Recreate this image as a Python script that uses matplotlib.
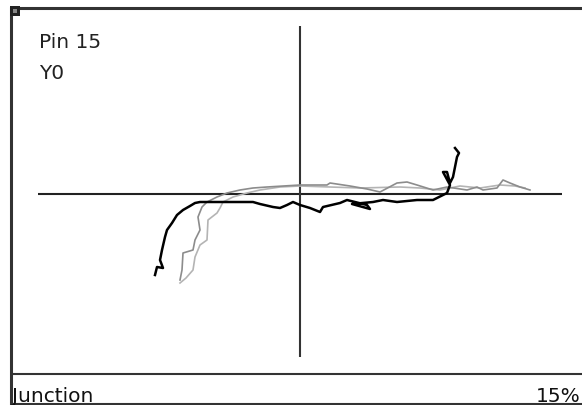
import matplotlib
matplotlib.use("Agg")
import matplotlib.pyplot as plt
from matplotlib.patches import Rectangle

# curve tracer readings (x: volts-ish, y: current-ish, arbitrary units)
black_x = [-14.5, -14.3, -13.7, -14.0, -13.8, -13.5, -13.3, -12.8, -12.3, -11.7, -11.0, -10.5, -10.0,
           -7.5, -4.7, -4.0, -2.7, -2.0, -1.3, -0.7, 0.0, 1.0, 2.0, 2.3, 4.0, 4.7, 6.7, 7.0, 5.2,
           7.3, 8.3, 9.7, 11.7, 13.3, 14.7, 15.0, 14.3, 14.7, 15.0, 15.3, 15.5, 15.7, 15.9, 15.5]
black_y = [-8.1, -7.3, -7.4, -6.6, -5.6, -4.3, -3.6, -2.9, -2.1, -1.6, -1.2, -0.9, -0.8,
           -0.8, -0.8, -1.0, -1.3, -1.4, -1.1, -0.8, -1.1, -1.4, -1.8, -1.3, -0.9, -0.6, -1.1, -1.5, -1.0,
           -0.8, -0.6, -0.8, -0.6, -0.6, 0.1, 0.9, 2.2, 2.2, 1.1, 1.7, 2.7, 3.7, 4.1, 4.6]

grayA_x = [-12.0, -11.8, -11.7, -10.7, -10.5, -10.0, -10.2, -9.8, -9.3, -8.3, -7.3, -6.0, -4.7, -3.3,
           0.0, 2.7, 3.0, 5.0, 6.7, 8.0, 9.7, 10.7, 11.7, 13.3, 14.7, 16.7, 17.7, 18.3, 19.7, 20.3,
           21.0, 22.0, 23.0]
grayA_y = [-8.6, -7.6, -5.9, -5.6, -4.6, -3.6, -2.3, -1.3, -0.8, -0.3, 0.1, 0.4, 0.6, 0.7,
           0.9, 0.9, 1.1, 0.8, 0.5, 0.2, 1.1, 1.2, 0.9, 0.4, 0.7, 0.4, 0.7, 0.4, 0.6, 1.4,
           1.1, 0.7, 0.4]

grayB_x = [-12.0, -11.4, -10.7, -10.5, -10.0, -9.3, -9.2, -8.3, -8.0, -7.7, -6.7, -5.3, -4.0, -2.0,
           0.0, 3.0, 6.0, 10.0, 12.0, 14.0, 16.0, 18.0, 20.0, 21.5, 22.5]
grayB_y = [-8.9, -8.4, -7.6, -6.3, -5.1, -4.6, -2.6, -1.9, -1.4, -0.8, -0.3, 0.1, 0.4, 0.7,
           0.8, 0.7, 0.6, 0.7, 0.6, 0.4, 0.8, 0.6, 0.9, 0.8, 0.6]

W, H = 582, 405
fig = plt.figure(figsize=(W / 100, H / 100), dpi=100)
fig.patch.set_facecolor("white")

# frame / status bar in pixel space
bg = fig.add_axes([0, 0, 1, 1])
bg.set_xlim(0, W)
bg.set_ylim(H, 0)
bg.axis("off")
frame = "#333333"
bg.plot([11, W], [8, 8], color=frame, lw=2.2, solid_capstyle="butt")
bg.plot([11, 11], [7, H], color=frame, lw=2.2, solid_capstyle="butt")
bg.plot([11, W], [374, 374], color=frame, lw=1.5, solid_capstyle="butt")
bg.plot([11, W], [403.5, 403.5], color=frame, lw=1.5, solid_capstyle="butt")
bg.add_patch(Rectangle((10, 6), 10, 10, facecolor="#222222", edgecolor="none", zorder=5))
bg.add_patch(Rectangle((13, 9), 4, 4, facecolor="#888888", edgecolor="none", zorder=6))
bg.text(39, 48, "Pin 15", fontsize=14.5, color="#222222", va="baseline")
bg.text(39, 79, "Y0", fontsize=14.5, color="#222222", va="baseline")
bg.text(12, 402, "Junction", fontsize=14.5, color="#111111", va="baseline")
bg.text(581, 402, "15%", fontsize=14.5, color="#111111", va="baseline", ha="right")

# trace area
ax = fig.add_axes([38 / W, (H - 357) / H, 524 / W, 331 / H])
ax.set_xlim(-26.2, 26.2)
ax.set_ylim(-16.3, 16.8)
ax.axis("off")
ax.axhline(0, color="#222222", lw=1.5)
ax.axvline(0, color="#333333", lw=1.5)
ax.plot(grayB_x, grayB_y, color="#b4b4b4", lw=1.2)
ax.plot(grayA_x, grayA_y, color="#8c8c8c", lw=1.2)
ax.plot(black_x, black_y, color="black", lw=1.8)

fig.savefig("out.png", dpi=100)
